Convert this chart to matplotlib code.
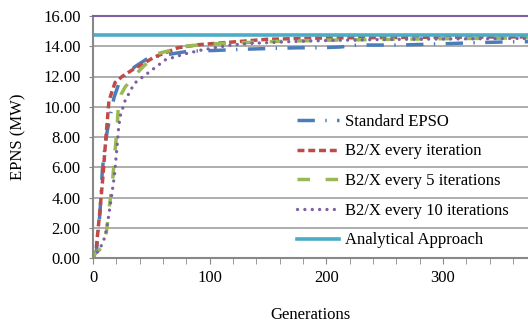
import matplotlib
matplotlib.use("Agg")
import matplotlib.pyplot as plt

plt.rcParams['font.family'] = ['Liberation Serif', 'DejaVu Serif']

# Standard EPSO
gen_std = [0, 3, 6, 8, 10, 12, 15, 18, 22, 28, 36, 47, 60, 68, 80, 92, 104, 128, 160, 178, 195, 212, 227, 262, 296, 329, 364, 373]
epns_std = [0, 0.5, 3.0, 5.8, 7.2, 8.3, 9.5, 10.6, 11.5, 12.1, 12.65, 13.2, 13.4, 13.5, 13.65, 13.7, 13.72, 13.8, 13.87, 13.9, 13.9, 13.95, 14.08, 14.08, 14.15, 14.24, 14.3, 14.3]

# B2/X every iteration
gen_b1 = [0, 2.6, 6, 8.3, 10.9, 13.7, 18.9, 25, 33, 53, 73, 90, 123, 149, 200, 300, 373]
epns_b1 = [0, 0.5, 3.2, 5.2, 7.8, 10.4, 11.6, 12.0, 12.4, 13.3, 13.9, 14.1, 14.3, 14.46, 14.55, 14.6, 14.62]

# B2/X every 5 iterations
gen_b5 = [0, 1.7, 5, 9, 11.7, 14, 16.9, 18.9, 20.4, 21.7, 24, 27.5, 35, 43, 54.6, 65, 79, 100, 150, 200, 300, 373]
epns_b5 = [0, 0.3, 0.5, 0.8, 1.85, 3.4, 5.2, 7.1, 8.3, 10.0, 10.8, 11.3, 12.0, 12.65, 13.5, 13.7, 14.0, 14.15, 14.3, 14.4, 14.5, 14.55]

# B2/X every 10 iterations
gen_b10 = [0, 3, 8.6, 11.6, 14.6, 18.3, 20.9, 21.8, 23.2, 27.5, 35.5, 50, 62, 79, 93, 118, 138, 167, 200, 250, 300, 373]
epns_b10 = [0, 0.3, 1.0, 1.85, 3.4, 5.4, 7.6, 8.46, 9.35, 10.4, 11.55, 12.4, 13.1, 13.5, 13.75, 14.08, 14.2, 14.3, 14.38, 14.45, 14.48, 14.52]

# Analytical approach
gen_an = [0, 373]
epns_an = [14.72, 14.72]

fig = plt.figure(figsize=(5.28, 3.26), dpi=100)
ax = fig.add_axes([93/528, 68/326, 435/528, 242/326])

ax.plot(gen_std, epns_std, color='#4a7ebb', lw=2.5, linestyle=(0, (5, 3, 0.4, 3)), label='Standard EPSO')
ax.plot(gen_b1, epns_b1, color='#be4b48', lw=2.5, linestyle=(0, (2, 1.1)), label='B2/X every iteration')
ax.plot(gen_b5, epns_b5, color='#98b954', lw=2.5, linestyle=(0, (3.6, 4.5)), label='B2/X every 5 iterations')
ax.plot(gen_b10, epns_b10, color='#7d60a0', lw=2.4, linestyle=(0, (0.01, 2.2)), dash_capstyle='round', label='B2/X every 10 iterations')
ax.plot(gen_an, epns_an, color='#4bacc6', lw=2.6, label='Analytical Approach')

ax.set_xlim(0, 373)
ax.set_ylim(0, 16)
ax.set_yticks([0, 2, 4, 6, 8, 10, 12, 14, 16])
ax.set_yticklabels(['%.2f' % v for v in [0, 2, 4, 6, 8, 10, 12, 14, 16]])
ax.set_xticks([0, 100, 200, 300])
ax.set_xticks(range(0, 373, 20), minor=True)
ax.grid(axis='y', color='#a0a0a0', lw=1.2)
ax.set_axisbelow(True)

ax.spines['right'].set_visible(False)
ax.spines['top'].set_color('#7d60a0')
ax.spines['top'].set_linewidth(1.5)
ax.spines['left'].set_color('#888888')
ax.spines['left'].set_linewidth(1.5)
ax.spines['bottom'].set_color('#888888')
ax.spines['bottom'].set_linewidth(1.5)

ax.tick_params(axis='y', labelsize=12, length=3, color='#888888', pad=6)
ax.tick_params(axis='x', which='both', labelsize=12, length=4, color='#888888', pad=5)

ax.set_xlabel('Generations', fontsize=12, labelpad=15)
ax.set_ylabel('EPNS (MW)', fontsize=12)
ax.yaxis.set_label_coords(-0.152, 0.5)

ax.legend(loc='center left', bbox_to_anchor=(297/528, 1 - 181/326), bbox_transform=fig.transFigure,
          frameon=False, fontsize=12, handlelength=2.5, handletextpad=0.4,
          labelspacing=0.82, borderpad=0, borderaxespad=0)

fig.savefig('out.png', dpi=100)
